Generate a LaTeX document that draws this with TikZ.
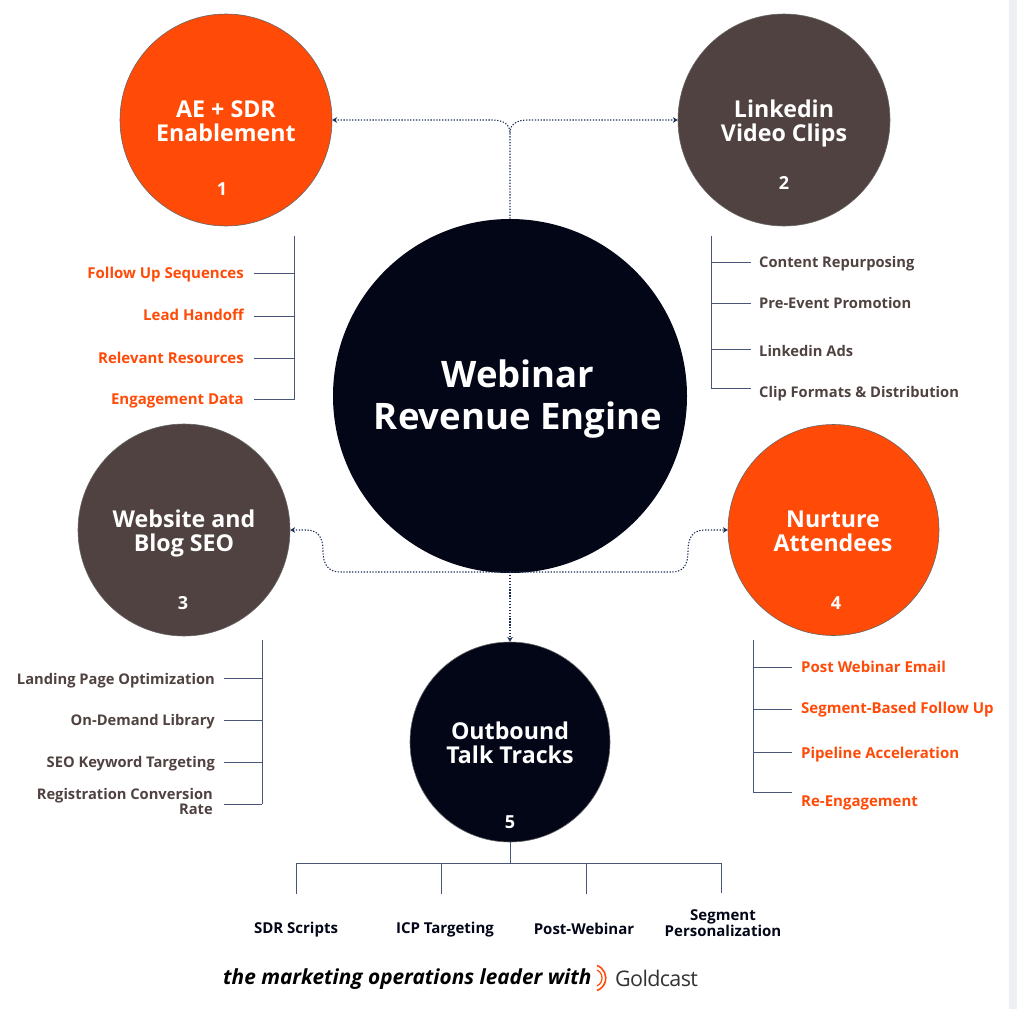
\documentclass[tikz,border=0pt]{standalone}
\usepackage{fontspec}
\setmainfont{Open Sans}
\usepackage{tikz}
\usetikzlibrary{arrows.meta}
\definecolor{flame}{HTML}{FF4A08}
\definecolor{cocoa}{HTML}{4F4240}
\definecolor{ink}{HTML}{020617}
\definecolor{wire}{HTML}{1C2C55}
\definecolor{railgrey}{HTML}{EEEFF3}
\tikzset{>={Stealth[width=2mm,length=1.7mm]},
  hub/.style={circle,inner sep=0pt,draw=black!60,line width=.6pt},
  hubtitle/.style={text=white,align=center,font=\fontsize{23.2}{24}\selectfont\bfseries},
  hubnum/.style={text=white,font=\fontsize{18}{20}\selectfont\bfseries},
  itemtxt/.style={font=\fontsize{15}{14}\selectfont\bfseries,inner sep=0pt},
  itemdark/.style={font=\fontsize{14.7}{14}\selectfont\bfseries,inner sep=0pt,text=cocoa},
  flow/.style={wire,line width=1.1pt,dash pattern=on 1.3pt off 1.6pt},
  tick/.style={wire!80,line width=.8pt}}

\begin{document}
\begin{tikzpicture}[x=1pt,y=-1pt]
  \useasboundingbox (0,0) rectangle (1017,1009);
  \fill[railgrey] (1009,0) rectangle (1017,1009);
  % Draw the hubs
  \node[hub,fill=ink,minimum size=354pt,draw=none] (engine) at (510,396) {};
  \node[hub,fill=flame,minimum size=212pt] (enable) at (226,120) {};
  \node[hub,fill=cocoa,minimum size=212pt] (clips) at (784,120) {};
  \node[hub,fill=cocoa,minimum size=212pt] (seo) at (184,530) {};
  \node[hub,fill=flame,minimum size=211pt] (nurture) at (833.5,530) {};
  \node[hub,fill=ink,minimum size=200pt] (outbound) at (510,742) {};
  % Hub titles and numbers
  \node[text=white,align=center,font=\fontsize{36.5}{42}\selectfont\bfseries] (engineTitle) at (518,399) {Webinar\hspace{10pt}\\Revenue Engine};
  \node[hubtitle] (enableTitle) at (226,121) {AE + SDR\\Enablement};
  \node[hubtitle] (clipsTitle) at (784,123.5) {Linkedin\\Video Clips};
  \node[hubtitle] (seoTitle) at (184,533.5) {Website and\\Blog SEO};
  \node[hubtitle] (nurtureTitle) at (833,531) {Nurture\\Attendees};
  \node[hubtitle] (outboundTitle) at (510,743) {Outbound\\Talk Tracks};
  \node[hubnum] (enableNum) at (222,189) {1};
  \node[hubnum] (clipsNum) at (784,183) {2};
  \node[hubnum] (seoNum) at (183,603) {3};
  \node[hubnum] (nurtureNum) at (836,603) {4};
  \node[hubnum] (outboundNum) at (510,822) {5};
  % Dotted flows out of the engine
  \coordinate (forkTop) at (510,133);
  \coordinate (forkLow) at (510,572);
  \draw[flow,->] (engine.north) -- (forkTop) .. controls (510,124) and (503,120) .. (492,120) -- (enable.east);
  \draw[flow,->] (forkTop) .. controls (510,124) and (517,120) .. (528,120) -- (clips.west);
  \draw[flow,->] (forkLow) -- (outbound.north);
  \draw[flow,->] (forkLow) -- (340,572) .. controls (328,572) and (323,564) .. (323,551) .. controls (323,537) and (318,530) .. (306,530) -- (seo.east);
  \draw[flow,->] (forkLow) -- (672,572) .. controls (684,572) and (688,564) .. (688,551) .. controls (688,537) and (693,530) .. (705,530) -- (nurture.west);
  % Item lists: spine, ticks and labels
  \coordinate (spineA) at (294,236);
  \coordinate (spineB) at (711,236);
  \coordinate (spineC) at (262,640);
  \coordinate (spineD) at (753,640);
  \draw[tick] (spineA) -- (294,400);
  \draw[tick] (spineB) -- (711,388);
  \draw[tick] (spineC) -- (262,804);
  \draw[tick] (spineD) -- (753,792);
  \foreach \idx/\ypos/\lift/\txt in {1/273/2/Follow Up Sequences,2/316/-1/Lead Handoff,3/358/0/Relevant Resources,4/399/2/Engagement Data} {
    \coordinate (tickA\idx) at (254,\ypos);
    \draw[tick] (tickA\idx) -- (tickA\idx -| spineA);
    \node[itemtxt,text=flame,anchor=east] (itemA\idx) at (244,\ypos+\lift) {\txt}; }
  \foreach \idx/\ypos/\lift/\txt in {1/262/2/Content Repurposing,2/303/0/Pre-Event Promotion,3/349/2/Linkedin Ads,4/388/6/Clip Formats \& Distribution} {
    \coordinate (tickB\idx) at (751,\ypos);
    \draw[tick] (tickB\idx) -- (tickB\idx -| spineB);
    \node[itemdark,anchor=west] (itemB\idx) at (759,\ypos+\lift) {\txt}; }
  \foreach \idx/\ypos/\lift/\txt in {1/678/3/Landing Page Optimization,2/720/2/On-Demand Library,3/762/2/SEO Keyword Targeting} {
    \coordinate (tickC\idx) at (224,\ypos);
    \draw[tick] (tickC\idx) -- (tickC\idx -| spineC);
    \node[itemdark,anchor=east] (itemC\idx) at (215,\ypos+\lift) {\txt}; }
  \coordinate (tickC4) at (224,804);
  \draw[tick] (tickC4) -- (tickC4 -| spineC);
  \node[itemdark,anchor=east,align=right] (itemC4) at (213,801) {Registration Conversion\\Rate};
  \foreach \idx/\ypos/\lift/\txt in {1/667/0/Post Webinar Email,2/709/1/Segment-Based Follow Up,3/752/3/Pipeline Acceleration,4/792/11/Re-Engagement} {
    \coordinate (tickD\idx) at (792,\ypos);
    \draw[tick] (tickD\idx) -- (tickD\idx -| spineD);
    \node[itemtxt,text=flame,anchor=west] (itemD\idx) at (801,\ypos+\lift) {\txt}; }
  % Bottom tree under the fifth hub
  \coordinate (treeMid) at (510,863);
  \coordinate (treeL) at (296,863);
  \coordinate (treeR) at (721,863);
  \draw[tick] (outbound.south) -- (treeMid);
  \draw[tick] (treeL) -- (treeR);
  \foreach \idx/\xpos/\xtxt/\ytxt/\txt in {1/296/296/930/SDR Scripts,2/441/445/930/ICP Targeting,3/586/584/929/Post-Webinar} {
    \coordinate (drop\idx) at (\xpos,863);
    \draw[tick] (drop\idx) -- ++(0,31);
    \node[itemtxt,text=ink] (leaf\idx) at (\xtxt,\ytxt) {\txt}; }
  \coordinate (drop4) at (721,863);
  \draw[tick] (drop4) -- ++(0,30);
  \node[itemtxt,text=ink,align=center] (leaf4) at (723,923) {Segment\\Personalization};
  % Footer line and logo
  \node[anchor=west,inner sep=0pt,text=black,font=\fontsize{20.8}{22}\selectfont\bfseries\itshape] (footer) at (223,979) {the marketing operations leader with};
  \coordinate (logoMark) at (597,978);
  \draw[flame,line width=1.6pt] (logoMark) ++(0,-12.5) arc[start angle=70,end angle=-70,radius=13.3pt];
  \draw[flame,line width=1.2pt] (logoMark) ++(0,-8) arc[start angle=65,end angle=-65,radius=8.8pt];
  \node[anchor=west,inner sep=0pt,text=black!80,font=\fontsize{21.5}{22}\selectfont\addfontfeature{LetterSpace=-3}] (logoWord) at (615,978) {Goldcast};
\end{tikzpicture}
\end{document}
